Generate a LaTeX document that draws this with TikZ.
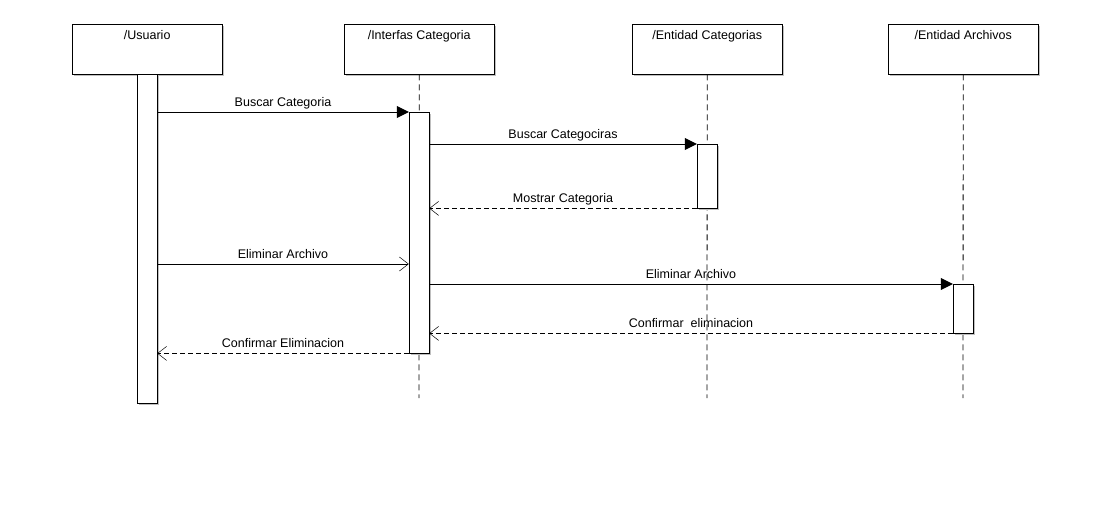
\documentclass[tikz,border=0pt]{standalone}
\usepackage{fontspec}
\setmainfont{Liberation Sans}
\usetikzlibrary{arrows.meta,shadows}
\begin{document}
\begin{tikzpicture}[x=1pt,y=-1pt,
  every node/.style={font=\fontsize{12.5}{14}\selectfont},
  shad/.style={drop shadow={shadow xshift=1.5pt,shadow yshift=-1.5pt,fill=black!25,opacity=1}},
  head/.style={draw,fill=white,shad,minimum width=150pt,minimum height=50pt,inner sep=0pt,anchor=north west},
  act/.style={draw,fill=white,shad,minimum width=20pt,inner sep=0pt,anchor=north},
  life/.style={line width=0.8pt,dash pattern=on 6pt off 4pt},
  sync/.style={-{Triangle[length=12pt,width=12pt]}},
  open/.style={-{Straight Barb[length=9pt,width=14pt,line width=0.5pt]}},
  ret/.style={dash pattern=on 5pt off 3pt,-{Straight Barb[length=9pt,width=14pt,line width=0.5pt]}},
  lbl/.style={above,inner sep=0pt,text height=9pt,text depth=2.5pt,yshift=3pt}]
\useasboundingbox (0,0) rectangle (1110,524);
% heads
\node[head] (hu) at (72,24) {};
\node[below,yshift=-3pt] at (hu.north) {/Usuario};
\node[head] (hi) at (344,24) {};
\node[below,yshift=-3pt] at (hi.north) {/Interfas Categoria};
\node[head] (hc) at (632,24) {};
\node[below,yshift=-3pt] at (hc.north) {/Entidad Categorias};
\node[head] (ha) at (888,24) {};
\node[below,yshift=-3pt] at (ha.north) {/Entidad Archivos};
% lifelines
\coordinate (ei) at (419,398);
\coordinate (ec) at (707,398);
\coordinate (ea) at (963,398);
\draw[life] (hi.south) -- (ei);
\draw[life] (hc.south) -- (ec);
\draw[life] (ha.south) -- (ea);
% activations
\node[act,minimum height=329pt] (au) at (147,74) {};
\node[act,minimum height=241pt] (ai) at (419,112) {};
\node[act,minimum height=64pt] (ac) at (707,144) {};
\node[act,minimum height=49pt] (aa) at (963,284) {};
% messages
\draw[sync] (au.east |- 0,112) -- node[lbl]{Buscar Categoria} (ai.north west);
\draw[sync] (ai.east |- 0,144) -- node[lbl]{Buscar Categociras} (ac.north west);
\draw[ret] (ac.south west) -- node[lbl]{Mostrar Categoria} (ai.east |- ac.south);
\draw[open] (au.east |- 0,264) -- node[lbl]{Eliminar Archivo} (ai.west |- 0,264);
\draw[sync] (ai.east |- 0,284) -- node[lbl]{Eliminar Archivo} (aa.north west);
\draw[ret] (aa.south west) -- node[lbl]{Confirmar\ \ eliminacion} (ai.east |- aa.south);
\draw[ret] (ai.south west) -- node[lbl]{Confirmar Eliminacion} (au.east |- ai.south);
\end{tikzpicture}
\end{document}
